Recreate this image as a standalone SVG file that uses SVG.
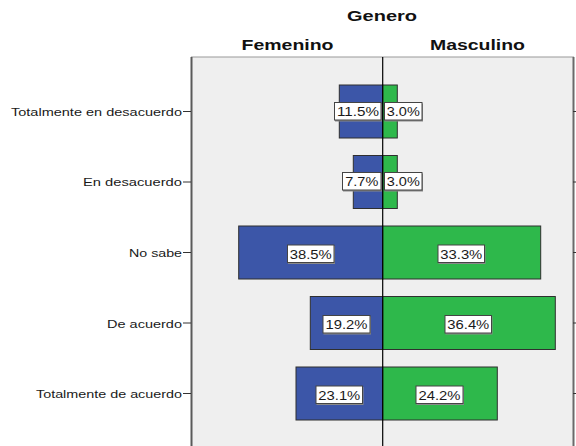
<svg xmlns="http://www.w3.org/2000/svg" width="576" height="446" viewBox="0 0 576 446">
<style>
.t{font-family:"Liberation Sans",Arial,sans-serif;fill:#1a1a1a}
.h{font-family:"Liberation Sans",Arial,sans-serif;font-weight:bold;font-size:14.5px;fill:#111;text-anchor:middle}
.cat{font-size:11.5px;text-anchor:end}
.pct{font-size:12.5px;text-anchor:middle}
.f{fill:#3c56a8;stroke:#2f2f2f;stroke-width:1}
.m{fill:#2eb84b;stroke:#2f2f2f;stroke-width:1}
.box{fill:#fff;stroke:#444;stroke-width:1}
.sh{fill:#8a8a8a}
.tick{stroke:#333;stroke-width:1}
</style>
<rect width="576" height="446" fill="#fff"/>
<g id="titles">
<text class="h" x="382" y="21" textLength="70" lengthAdjust="spacingAndGlyphs">Genero</text>
<text class="h" x="287.5" y="50" textLength="92" lengthAdjust="spacingAndGlyphs">Femenino</text>
<text class="h" x="477.5" y="50" textLength="95" lengthAdjust="spacingAndGlyphs">Masculino</text>
</g>
<g id="plot">
<rect x="191.5" y="57" width="382" height="395" fill="#efefef" stroke="#9a9a9a" stroke-width="1"/>
<line x1="191.5" y1="57" x2="191.5" y2="446" stroke="#5a5a5a" stroke-width="2"/>
<line x1="573.5" y1="57" x2="573.5" y2="446" stroke="#6a6a6a" stroke-width="2"/>
</g>
<g id="axis-labels" class="t">
<text class="t cat" x="182" y="115.5" textLength="171" lengthAdjust="spacingAndGlyphs">Totalmente en desacuerdo</text>
<text class="t cat" x="182" y="186" textLength="99" lengthAdjust="spacingAndGlyphs">En desacuerdo</text>
<text class="t cat" x="182" y="257" textLength="53" lengthAdjust="spacingAndGlyphs">No sabe</text>
<text class="t cat" x="182" y="327.5" textLength="75" lengthAdjust="spacingAndGlyphs">De acuerdo</text>
<text class="t cat" x="182" y="398" textLength="146" lengthAdjust="spacingAndGlyphs">Totalmente de acuerdo</text>
</g>
<g id="ticks">
<line class="tick" x1="183" y1="111.5" x2="191" y2="111.5"/>
<line class="tick" x1="183" y1="182" x2="191" y2="182"/>
<line class="tick" x1="183" y1="252.5" x2="191" y2="252.5"/>
<line class="tick" x1="183" y1="323" x2="191" y2="323"/>
<line class="tick" x1="183" y1="393.5" x2="191" y2="393.5"/>
<line class="tick" x1="573" y1="111.5" x2="576" y2="111.5"/>
<line class="tick" x1="573" y1="182" x2="576" y2="182"/>
<line class="tick" x1="573" y1="252.5" x2="576" y2="252.5"/>
<line class="tick" x1="573" y1="323" x2="576" y2="323"/>
<line class="tick" x1="573" y1="393.5" x2="576" y2="393.5"/>
</g>
<g id="row1">
<rect class="f" x="339.3" y="85" width="43.4" height="53"/>
<rect class="m" x="382.7" y="85" width="14.6" height="53"/>
</g>
<g id="row2">
<rect class="f" x="353.3" y="155.5" width="29.4" height="53"/>
<rect class="m" x="382.7" y="155.5" width="14.6" height="53"/>
</g>
<g id="row3">
<rect class="f" x="238.7" y="226" width="144" height="53"/>
<rect class="m" x="382.7" y="226" width="158" height="53"/>
</g>
<g id="row4">
<rect class="f" x="310.3" y="296.5" width="72.4" height="53"/>
<rect class="m" x="382.7" y="296.5" width="172.6" height="53"/>
</g>
<g id="row5">
<rect class="f" x="296" y="367" width="86.7" height="53"/>
<rect class="m" x="382.7" y="367" width="114.6" height="53"/>
</g>
<g id="centerline">
<line x1="382.7" y1="57" x2="382.7" y2="446" stroke="#000" stroke-width="1.2"/>
</g>
<g id="value-labels">
<rect class="sh" x="335" y="103.5" width="47" height="18"/><rect class="box" x="334.5" y="102.5" width="46.5" height="17.5"/>
<text class="t pct" x="358" y="116" textLength="42" lengthAdjust="spacingAndGlyphs">11.5%</text>
<rect class="sh" x="384.5" y="103.5" width="38.5" height="18"/><rect class="box" x="384.5" y="102.5" width="37.5" height="17.5"/>
<text class="t pct" x="403.3" y="116" textLength="33" lengthAdjust="spacingAndGlyphs">3.0%</text>

<rect class="sh" x="343" y="173.5" width="39" height="18"/><rect class="box" x="342.5" y="172.5" width="38.5" height="17.5"/>
<text class="t pct" x="361.8" y="186" textLength="33" lengthAdjust="spacingAndGlyphs">7.7%</text>
<rect class="sh" x="384.5" y="173.5" width="38.5" height="18"/><rect class="box" x="384.5" y="172.5" width="37.5" height="17.5"/>
<text class="t pct" x="403.3" y="186" textLength="33" lengthAdjust="spacingAndGlyphs">3.0%</text>

<rect class="sh" x="288" y="246" width="47" height="18"/><rect class="box" x="287.5" y="245" width="46.5" height="17.5"/>
<text class="t pct" x="310.7" y="258.5" textLength="42" lengthAdjust="spacingAndGlyphs">38.5%</text>
<rect class="sh" x="438.5" y="246" width="47" height="18"/><rect class="box" x="438" y="245" width="46.5" height="17.5"/>
<text class="t pct" x="461.3" y="258.5" textLength="42" lengthAdjust="spacingAndGlyphs">33.3%</text>

<rect class="sh" x="323.5" y="316.5" width="47.5" height="18"/><rect class="box" x="323" y="315.5" width="47" height="17.5"/>
<text class="t pct" x="346.5" y="329" textLength="42" lengthAdjust="spacingAndGlyphs">19.2%</text>
<rect class="sh" x="445.5" y="316.5" width="47" height="18"/><rect class="box" x="445" y="315.5" width="46.5" height="17.5"/>
<text class="t pct" x="468.3" y="329" textLength="42" lengthAdjust="spacingAndGlyphs">36.4%</text>

<rect class="sh" x="316.5" y="387" width="47" height="18"/><rect class="box" x="316" y="386" width="46.5" height="17.5"/>
<text class="t pct" x="339.3" y="399.5" textLength="42" lengthAdjust="spacingAndGlyphs">23.1%</text>
<rect class="sh" x="416.5" y="387" width="47.5" height="18"/><rect class="box" x="416" y="386" width="47" height="17.5"/>
<text class="t pct" x="439.5" y="399.5" textLength="42" lengthAdjust="spacingAndGlyphs">24.2%</text>
</g>
</svg>
